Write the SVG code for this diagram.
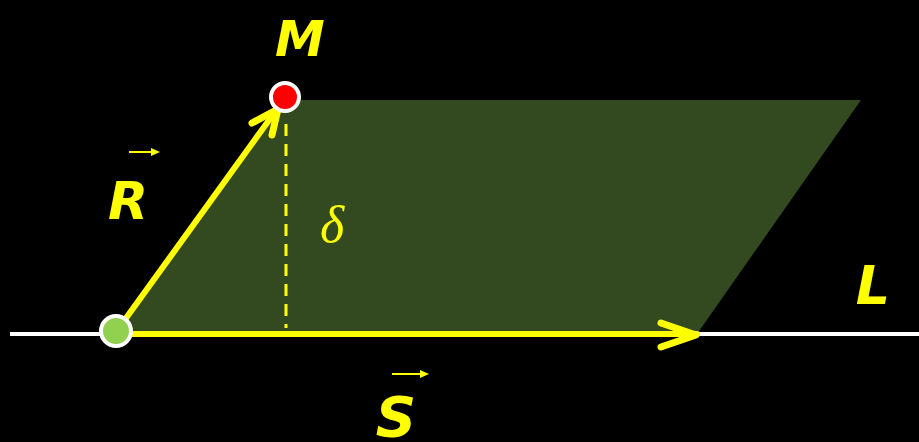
<svg xmlns="http://www.w3.org/2000/svg" width="919" height="442" viewBox="0 0 919 442">
<style>
.lbl{font-family:"DejaVu Sans","Liberation Sans",sans-serif;font-style:italic;fill:#ffff00;font-weight:bold}
.vec{stroke:#ffff00;stroke-width:6;fill:none;stroke-linecap:round;stroke-linejoin:round}
.head{stroke:#ffff00;stroke-width:7;fill:none;stroke-linecap:round;stroke-linejoin:round}
.small{stroke:#ffff00;stroke-width:2;fill:none}
</style>
<rect width="919" height="442" fill="#000"/>
<g id="plane"><polygon points="116,334 285,100 861,100 697,334" fill="#33491f"/></g>
<g id="line-L"><line x1="10" y1="334" x2="919" y2="334" stroke="#fff" stroke-width="4"/></g>
<g id="connectors">
<line class="vec" x1="116" y1="334" x2="697" y2="334"/>
<polyline class="head" points="661,323 696,335 661,347"/>
<line class="vec" x1="116" y1="332" x2="280" y2="105"/>
<polyline class="head" points="252,123 278,109 272,135"/>
<line x1="286" y1="124" x2="286" y2="328" stroke="#ffff00" stroke-width="3" stroke-dasharray="12,8"/>
</g>
<g id="M"><circle cx="285" cy="97" r="14" fill="#ff0000" stroke="#fff" stroke-width="4"/>
<text class="lbl" x="300" y="56" font-size="50" text-anchor="middle">M</text></g>
<g id="origin"><circle cx="116" cy="331" r="15" fill="#92d050" stroke="#fff" stroke-width="4"/></g>
<g id="R-label"><text class="lbl" x="128" y="219" font-size="52" text-anchor="middle">R</text>
<line class="small" x1="129" y1="152" x2="154" y2="152"/><polygon points="160,152 151,148 151,156" fill="#ffff00"/></g>
<g id="delta"><text x="332" y="242" font-family="Liberation Serif,serif" font-style="italic" font-size="52" fill="#ffff00" text-anchor="middle">δ</text></g>
<g id="L-label"><text class="lbl" x="873" y="304" font-size="54" text-anchor="middle">L</text></g>
<g id="S-label"><text class="lbl" x="396" y="436" font-size="56" text-anchor="middle">S</text>
<line class="small" x1="392" y1="374" x2="422" y2="374"/><polygon points="429,374 420,370 420,378" fill="#ffff00"/></g>
</svg>
